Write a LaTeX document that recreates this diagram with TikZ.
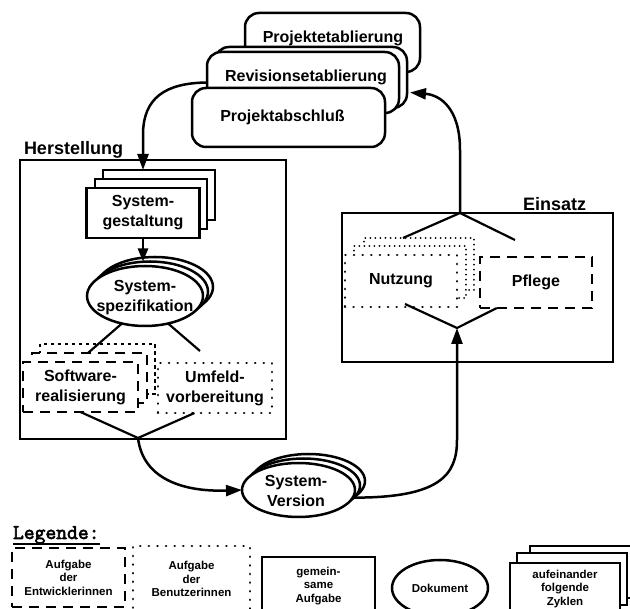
\documentclass[tikz,border=0pt]{standalone}
\usepackage{fontspec}
\setmainfont{Liberation Sans}
\newfontfamily\legfont{Latin Modern Mono}[AutoFakeBold=3]
\usetikzlibrary{arrows.meta,shapes.geometric,calc}

\begin{document}
\begin{tikzpicture}[x=1pt,y=-1pt,
  every node/.style={inner sep=0pt, outer sep=0pt},
  lbl/.style={font=\bfseries\fontsize{16}{20}\selectfont, align=center},
  legtxt/.style={font=\bfseries\fontsize{11.5}{13.5}\selectfont, align=center},
  title/.style={font=\bfseries\fontsize{18}{18}\selectfont, anchor=base west},
  panel/.style={draw, line width=1.8pt},
  solidbox/.style={draw, line width=2.5pt, fill=white},
  roundbox/.style={solidbox, rounded corners=14pt},
  dashbox/.style={draw, line width=2.8pt, fill=white, dash pattern=on 10pt off 7pt},
  dotbox/.style={draw, line width=2.8pt, fill=white, line cap=round, dash pattern=on 0.01pt off 8.6pt},
  finedot/.style={draw, line width=2pt, fill=white, line cap=round, dash pattern=on 0.01pt off 5pt},
  shortdash/.style={draw, line width=2pt, fill=white, dash pattern=on 3.5pt off 3.5pt},
  doc/.style={draw, ellipse, line width=2.5pt, fill=white},
  flow/.style={line width=2.5pt, -{Triangle[length=16pt,width=11pt]}},
  flowsmall/.style={line width=2.5pt, -{Triangle[length=13pt,width=10pt]}},
  fork/.style={line width=2.2pt}
]
\useasboundingbox (0,0) rectangle (630,609);
\clip (0,0) rectangle (630,609);
\fill[white] (0,0) rectangle (630,609);

% ---- phase frames ----
\node[panel, minimum width=266pt, minimum height=279pt] (herst) at (153,299.5) {};
\node[title] (herst-t) at (24,155) {Herstellung};
\node[panel, minimum width=271pt, minimum height=149pt] (eins) at (477.5,287.5) {};
\node[title] (eins-t) at (523,211) {Einsatz};

% ---- project stack at the top ----
\node[roundbox, minimum width=175pt, minimum height=59pt] (etab) at (332.5,42.5) {};
\node[lbl, anchor=base] (etab-t) at (333,43) {Projektetablierung};
\node[roundbox, minimum width=192pt, minimum height=61pt] (rev2) at (311,77.5) {};
\node[roundbox, minimum width=192pt, minimum height=61pt] (rev1) at (303,82.5) {};
\node[lbl, anchor=base] (rev-t) at (306,82) {Revisionsetablierung};
\node[roundbox, minimum width=193pt, minimum height=59pt] (absch) at (288.5,117.5) {};
\node[lbl, anchor=base] (absch-t) at (282.5,122) {Projektabschlu\ss};

% ---- Herstellung ----
\node[solidbox, minimum width=112pt, minimum height=50pt] (sg3) at (159,195) {};
\node[solidbox, minimum width=112pt, minimum height=50pt] (sg2) at (151,204) {};
\node[solidbox, lbl, minimum width=113pt, minimum height=50pt] (sg1) at (143,213) {System-\\gestaltung};

\node[doc, minimum width=116pt, minimum height=60pt] (ss3) at (155,287) {};
\node[doc, minimum width=116pt, minimum height=60pt] (ss2) at (150,291.5) {};
\node[doc, minimum width=116pt, minimum height=60pt] (ss1) at (145,296) {};
\node[lbl] (ss-t) at (145,298) {System-\\spezifikation};

\node[shortdash, minimum width=115pt, minimum height=50pt] (sw3) at (97.5,369) {};
\node[dashbox, minimum width=115pt, minimum height=50pt] (sw2) at (89.5,378) {};
\node[dashbox, lbl, minimum width=115pt, minimum height=50pt] (sw1) at (80.5,387) {Software-\\realisierung};
\node[dotbox, lbl, minimum width=114pt, minimum height=50pt] (uv) at (215,388) {Umfeld-\\vorbereitung};

\coordinate (fl) at (88,353);
\coordinate (fr) at (200,351);
\coordinate (hh) at (138,438);
\draw[fork] (fl) -- (ss1.-130);
\draw[fork] (ss1.-50) -- (fr);
\draw[fork] (sw1.south) -- (hh) -- ($(uv.south west)!0.32!(uv.south east)$);

% ---- system version ----
\node[doc, minimum width=113pt, minimum height=54pt] (sv3) at (308.5,481) {};
\node[doc, minimum width=113pt, minimum height=54pt] (sv2) at (303.5,485.5) {};
\node[doc, minimum width=113pt, minimum height=54pt] (sv1) at (298.5,490) {};
\node[lbl] (sv-t) at (296,491) {System-\\Version};

% ---- Einsatz ----
\node[finedot, minimum width=110pt, minimum height=52pt] (nu3) at (419,264) {};
\node[finedot, minimum width=112pt, minimum height=52pt] (nu2) at (410,272) {};
\node[dotbox, lbl, minimum width=112pt, minimum height=52pt] (nu1) at (401,281) {Nutzung};
\node[dashbox, lbl, minimum width=112pt, minimum height=51pt] (pf) at (536,282.5) {Pflege};

\coordinate (etop) at (460,213);
\coordinate (nl) at (403,238);
\coordinate (nr) at (515,240);
\coordinate (hub) at (457,328);
\draw[fork] (nl) -- (etop) -- (nr);
\draw[fork] ($(nu1.south)+(4,-3)$) -- (hub) -- ($(pf.south west)!0.15!(pf.south east)$);

% ---- flow arrows ----
\draw[flow] (rev1.west) .. controls (165,83) and (143,98) .. (143,135) -- (sg1.north |- sg3.north);
\draw[flowsmall] (sg1.south) -- (sg1.south |- ss2.north);
\draw[flow] (hh) .. controls (143,480) and (185,492) .. (sv1.west);
\draw[flow] (sv1.-8) .. controls (440,498) and (457,475) .. (457,440) -- (hub);
\draw[flow] (etop) -- (460,150) .. controls (460,108) and (440,95) .. ($(rev2.east)+(3,15)$);

% ---- legend ----
\node[font=\legfont\bfseries\fontsize{21}{21}\selectfont, anchor=base west] (leg) at (13,539) {Legende:};
\draw[line width=1.8pt] ($(leg.base west)+(0,5)$) -- ($(leg.base east)+(0,5)$);
\node[dashbox, legtxt, minimum width=113pt, minimum height=59pt] (lg1) at (68.5,577.5) {Aufgabe\\der\\Entwicklerinnen};
\node[dotbox, legtxt, minimum width=117pt, minimum height=66pt] (lg2) at (191.5,579) {Aufgabe\\der\\Benutzerinnen};
\node[solidbox, legtxt, minimum width=113pt, minimum height=58pt] (lg3) at (318.5,586) {gemein-\\same\\Aufgabe};
\node[doc, legtxt, minimum width=96pt, minimum height=56pt] (lg4) at (440,588) {Dokument};
\node[solidbox, minimum width=110pt, minimum height=52pt] (lg5c) at (585,572) {};
\node[solidbox, minimum width=110pt, minimum height=52pt] (lg5b) at (572,579) {};
\node[solidbox, legtxt, minimum width=110pt, minimum height=52pt] (lg5a) at (565,589) {aufeinander\\folgende\\Zyklen};
\end{tikzpicture}
\end{document}
